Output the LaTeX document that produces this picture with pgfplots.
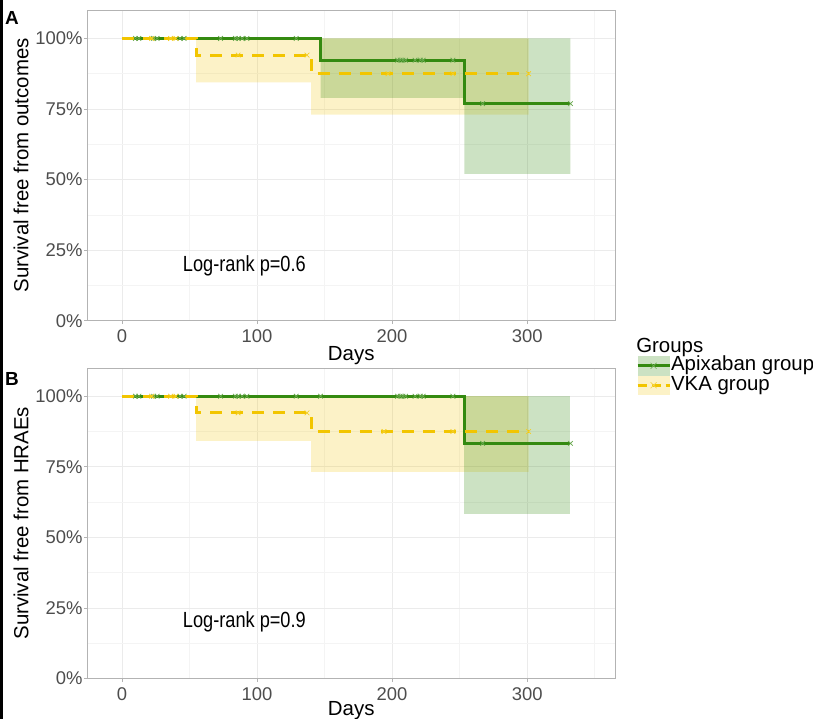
\documentclass[border=0pt]{standalone}
\usepackage{fontspec}
\setmainfont{Liberation Sans}
\newfontfamily\condensed{Liberation Sans}[FakeStretch=0.83]
\usepackage{pgfplots}
\pgfplotsset{compat=1.18}
\definecolor{apx}{HTML}{348A10}
\definecolor{vka}{HTML}{F2C500}
\definecolor{gridmaj}{HTML}{EBEBEB}
\definecolor{gridmin}{HTML}{F4F4F4}
\definecolor{frame}{HTML}{B3B3B3}
\definecolor{ticklab}{HTML}{4D4D4D}
\pgfplotsset{
 kmaxis/.style={
  scale only axis, width=527.5bp, height=310.5bp,
  xmin=-25.5, xmax=365, ymin=0, ymax=110,
  xtick={0,100,200,300}, minor xtick={50,150,250,350},
  ytick={0,25,50,75,100}, minor ytick={12.5,37.5,62.5,87.5},
  yticklabels={0\%,25\%,50\%,75\%,100\%},
  grid=both,
  major grid style={draw=gridmaj, line width=0.8bp},
  minor grid style={draw=gridmin, line width=0.5bp},
  axis line style={draw=frame, line width=0.8bp},
  tick align=outside, tick pos=left,
  major tick length=3.5bp, minor tick length=0pt,
  every tick/.style={draw=frame, line width=0.8bp},
  ticklabel style={font=\fontsize{18.5}{18.5}\selectfont, text=ticklab},
  yticklabel style={xshift=2bp},
  xticklabel style={yshift=-2bp},
  /pgf/number format/assume math mode=true,
  xlabel={Days},
  label style={font=\fontsize{20.5}{20.5}\selectfont},
  xlabel style={at={(axis description cs:0.5,-0.112)}, anchor=center},
  ylabel style={at={(axis description cs:-0.126,0.5)}, anchor=center},
  clip=false,
 },
 cens/.style={only marks, mark=x, mark size=3.3bp, mark options={line width=0.75bp}},
 kmline/.style={line width=3bp, const plot},
}
\begin{document}
\begin{tikzpicture}
\path[use as bounding box] (-87.5bp,-398.3bp) rectangle (725.5bp,320.7bp);
\fill[black] (-87.5bp,-398.3bp) rectangle (-84.5bp,320.7bp);
% ---------------- Panel A
\begin{axis}[kmaxis, at={(0,0)}, anchor=south west,
  ylabel={Survival free from outcomes},
  legend style={at={(axis description cs:1.040,-0.114)}, anchor=north west,
    draw=none, fill=none, inner sep=0pt, outer sep=0pt, row sep=0pt,
    font=\fontsize{20.5}{20.5}\selectfont,
    nodes={inner xsep=0pt, inner ysep=0pt, text height=14bp, text depth=4.5bp},
    /tikz/every even column/.style={column sep=4bp}},
  legend cell align=left]
\addplot[fill=vka, fill opacity=0.22, draw=none, forget plot] coordinates
 {(55,100) (301,100) (301,73) (140,73) (140,84.4) (55,84.4)} -- cycle;
\addplot[fill=apx, fill opacity=0.25, draw=none, forget plot] coordinates
 {(147,100) (332,100) (332,52) (253.5,52) (253.5,78.9) (147,78.9)} -- cycle;
\addplot[apx, kmline,
 legend image code/.code={
  \fill[draw=none, fill=apx, fill opacity=0.25] (0bp,-9.75bp) rectangle (32bp,9.75bp);
  \draw[apx, line width=3bp, solid] (0bp,0bp) -- (32bp,0bp);
  \draw[apx!70, line width=0.7bp, solid] (13bp,-3bp) -- (19bp,3bp) (13bp,3bp) -- (19bp,-3bp);}]
 coordinates {(0,100) (147,92.3) (253.5,76.9) (332,76.9)};
\addlegendentry{Apixaban group}
\addplot[vka, kmline, dash pattern=on 12bp off 9bp,
 legend image code/.code={
  \fill[draw=none, fill=vka, fill opacity=0.22] (0bp,-9.75bp) rectangle (32bp,9.75bp);
  \draw[vka, line width=3bp, dash pattern=on 9bp off 5bp] (0bp,0bp) -- (32bp,0bp);
  \draw[vka!70, line width=0.7bp, solid] (13bp,-3bp) -- (19bp,3bp) (13bp,3bp) -- (19bp,-3bp);}]
 coordinates {(0,100) (55,94.1) (140,87.5) (301,87.5)};
\addlegendentry{VKA group}
\addplot[cens, apx!75, forget plot] coordinates {
 (10,100) (12.5,100) (23.5,100) (26,100) (43,100) (46,100) (73,100) (84,100)
 (86,100) (89,100) (92.5,100) (129,100)
 (204,92.3) (206,92.3) (208,92.3) (210,92.3) (217,92.3) (221,92.3) (223,92.3) (245,92.3)
 (267,76.9) (332,76.9)};
\addplot[cens, vka!85, forget plot] coordinates {
 (22,100) (36,100) (40,100) (86,94.1) (137,94.1) (197,87.5) (245,87.5) (301,87.5)};
\node[anchor=west, inner sep=0pt, font=\condensed\fontsize{22}{22}\selectfont] at (axis cs:45,19.4) {Log-rank p=0.6};
\node[font=\bfseries\fontsize{19}{19}\selectfont] at (axis description cs:-0.143,0.976) {A};
\node[anchor=base west, inner sep=0pt, font=\fontsize{20.5}{20.5}\selectfont] at (axis description cs:1.040,-0.101) {Groups};
\end{axis}
% ---------------- Panel B
\begin{axis}[kmaxis, at={(0,-357.8bp)}, anchor=south west,
  ylabel={Survival free from HRAEs},
  xlabel style={at={(axis description cs:0.5,-0.104)}}]
\addplot[fill=vka, fill opacity=0.22, draw=none] coordinates
 {(55,100) (301,100) (301,73.2) (140,73.2) (140,84.2) (55,84.2)} -- cycle;
\addplot[fill=apx, fill opacity=0.25, draw=none] coordinates
 {(253.5,100) (332,100) (332,58.3) (253.5,58.3)} -- cycle;
\addplot[apx, kmline]
 coordinates {(0,100) (253.5,83.3) (332,83.3)};
\addplot[vka, kmline, dash pattern=on 12bp off 9bp]
 coordinates {(0,100) (55,94.1) (140,87.5) (301,87.5)};
\addplot[cens, apx!75] coordinates {
 (10,100) (12.5,100) (23.5,100) (26,100) (43,100) (46,100) (73,100) (84,100)
 (86,100) (89,100) (92.5,100) (129,100) (147,100)
 (204,100) (206,100) (208,100) (210,100) (217,100) (221,100) (223,100) (245,100)
 (267,83.3) (332,83.3)};
\addplot[cens, vka!85] coordinates {
 (22,100) (36,100) (40,100) (86,94.1) (137,94.1) (194,87.5) (245,87.5) (301,87.5)};
\node[anchor=west, inner sep=0pt, font=\condensed\fontsize{22}{22}\selectfont] at (axis cs:45,20) {Log-rank p=0.9};
\node[font=\bfseries\fontsize{19}{19}\selectfont] at (axis description cs:-0.143,0.966) {B};
\end{axis}
\end{tikzpicture}
\end{document}
